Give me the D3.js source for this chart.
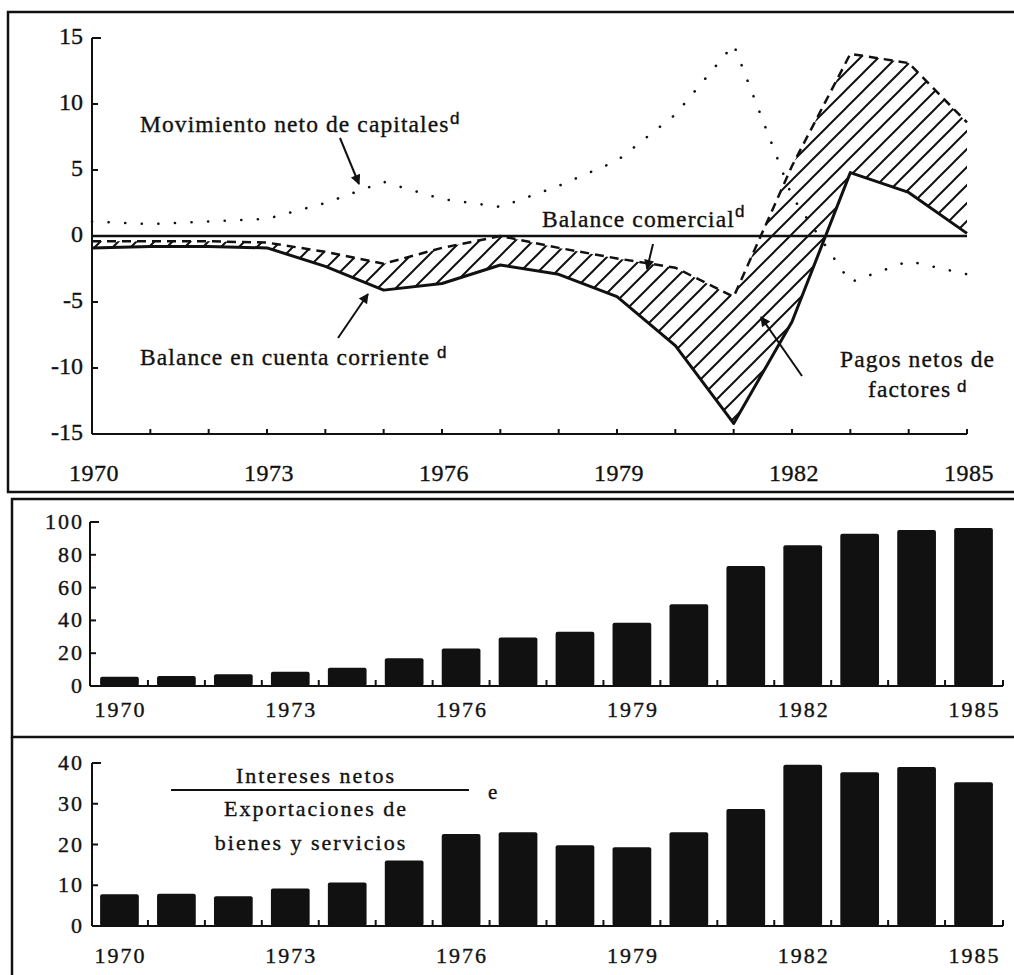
<!DOCTYPE html>
<html><head><meta charset="utf-8">
<script src="https://cdn.jsdelivr.net/npm/d3@7"></script>
<style>
html,body{margin:0;padding:0;background:#fff;}
svg{display:block;}
svg text{stroke:#111;stroke-width:0.35px;}
</style>
</head><body>
<svg id="c" width="1014" height="975"></svg>
<script>
// ---------- data ----------
const years = [1970,1971,1972,1973,1974,1975,1976,1977,1978,1979,1980,1981,1982,1983,1984,1985];
const labelYears = [1970,1973,1976,1979,1982,1985];
const tradeBalance    = [-0.4,-0.4,-0.4,-0.5,-1.2,-2.1,-0.9,0.0,-0.9,-1.7,-2.4,-4.6,5.3,13.8,13.1,8.6];
const currentAccount  = [-0.9,-0.8,-0.8,-0.9,-2.3,-4.1,-3.6,-2.2,-2.9,-4.6,-8.3,-14.2,-6.5,4.8,3.3,0.2];
const capitalMovement = [1.1,0.9,1.1,1.3,2.5,4.1,2.8,2.2,3.8,5.7,9.2,14.5,3.0,-3.5,-1.9,-2.9];
const debtRatio       = [5.7,6.1,7.1,8.7,11.2,16.9,22.8,29.5,33.1,38.6,49.8,73.2,85.8,92.9,95.1,96.3];
const interestRatio   = [7.8,7.9,7.3,9.2,10.7,16.1,22.6,23.0,19.8,19.3,23.0,28.7,39.6,37.7,39.0,35.3];
const topTicks = [-15,-10,-5,0,5,10,15];
const midTicks = [0,20,40,60,80,100];
const botTicks = [0,10,20,30,40];

const SERIF = "'Liberation Serif', 'DejaVu Serif', serif";
const SANS = "'Liberation Sans', 'DejaVu Sans', sans-serif";
const svg = d3.select("#c").attr("font-family", SERIF);
const INK = "#111";

// ---------- defs ----------
const defs = svg.append("defs");
const pat = defs.append("pattern").attr("id","hatch").attr("patternUnits","userSpaceOnUse")
  .attr("width",18).attr("height",18);
pat.append("path").attr("d","M-4.5,4.5 L4.5,-4.5 M0,18 L18,0 M13.5,22.5 L22.5,13.5")
  .attr("stroke",INK).attr("stroke-width",2);
defs.append("marker").attr("id","arr").attr("viewBox","0 0 10 10").attr("refX",9).attr("refY",5)
  .attr("markerWidth",15).attr("markerHeight",10).attr("markerUnits","userSpaceOnUse").attr("orient","auto")
  .append("path").attr("d","M0,0 L10,5 L0,10 z").attr("fill",INK);

function txt(g){ return g.append("text").attr("font-family",SERIF).attr("fill",INK); }

// ---------- frames ----------
const frame = svg.append("g").attr("fill","none").attr("stroke",INK).attr("stroke-width",2.5);
frame.append("path").attr("d","M1014,12 H8 V492 H1014");
frame.append("path").attr("d","M1014,499 H12 V737 H1014");
frame.append("path").attr("d","M12,737 V975");

// ================= TOP PANEL =================
const xTop = d3.scaleLinear().domain([1970,1985]).range([92,967]);
const yTop = d3.scaleLinear().domain([-15,15]).range([434,38]);
const gT = svg.append("g");

const areaData = years.map((y,i)=>({y, t:tradeBalance[i], c:currentAccount[i], k:capitalMovement[i]}));
gT.append("path").datum(areaData)
  .attr("d", d3.area().x(d=>xTop(d.y)).y0(d=>yTop(d.c)).y1(d=>yTop(d.t)))
  .attr("fill","url(#hatch)");

gT.append("line").attr("x1",xTop(1970)).attr("x2",xTop(1985)).attr("y1",yTop(0)).attr("y2",yTop(0))
  .attr("stroke",INK).attr("stroke-width",2.5);

gT.append("line").attr("x1",xTop(1970)).attr("x2",xTop(1970)).attr("y1",yTop(-15)).attr("y2",yTop(15))
  .attr("stroke",INK).attr("stroke-width",2);
gT.append("line").attr("x1",xTop(1970)).attr("x2",xTop(1985)).attr("y1",yTop(-15)).attr("y2",yTop(-15))
  .attr("stroke",INK).attr("stroke-width",2);
gT.selectAll(".yt").data(topTicks).join("line")
  .attr("x1",xTop(1970)).attr("x2",d=>xTop(1970)+(d===15?9:6)).attr("y1",d=>yTop(d)).attr("y2",d=>yTop(d))
  .attr("stroke",INK).attr("stroke-width",2);
gT.selectAll(".yl").data(topTicks).join("text")
  .attr("font-family",SERIF).attr("fill",INK)
  .attr("x",83).attr("y",d=>yTop(d)+6).attr("text-anchor","end")
  .attr("font-size",24).text(d=>d);
gT.selectAll(".xt").data(years).join("line")
  .attr("x1",d=>xTop(d)).attr("x2",d=>xTop(d)).attr("y1",yTop(-15)).attr("y2",yTop(-15)-5)
  .attr("stroke",INK).attr("stroke-width",2);
gT.selectAll(".xl").data(labelYears).join("text")
  .attr("font-family",SERIF).attr("fill",INK)
  .attr("x",d=>xTop(d)+2).attr("y",481).attr("text-anchor","middle")
  .attr("font-size",24).attr("letter-spacing",0.5).text(d=>d);

gT.append("path").datum(areaData)
  .attr("d", d3.line().x(d=>xTop(d.y)).y(d=>yTop(d.c)))
  .attr("fill","none").attr("stroke",INK).attr("stroke-width",3).attr("stroke-linejoin","round");
gT.append("path").datum(areaData)
  .attr("d", d3.line().x(d=>xTop(d.y)).y(d=>yTop(d.t)))
  .attr("fill","none").attr("stroke",INK).attr("stroke-width",2.5).attr("stroke-dasharray","9,6");
gT.append("path").datum(areaData)
  .attr("d", d3.line().x(d=>xTop(d.y)).y(d=>yTop(d.k)))
  .attr("fill","none").attr("stroke",INK).attr("stroke-width",2.6).attr("stroke-linecap","round")
  .attr("stroke-dasharray","0.1,16.5");

function label(g, x, y, s, sup, supDx, supDy){
  txt(g).attr("x",x).attr("y",y).attr("font-size",23.5).attr("letter-spacing",1.1).text(s);
  if(sup){
    g.append("text").attr("x",x+supDx).attr("y",y+supDy).attr("fill",INK)
      .attr("font-family",SANS).attr("font-size",17).text(sup);
  }
}
function arrow(g, x1,y1,x2,y2){
  g.append("line").attr("x1",x1).attr("y1",y1).attr("x2",x2).attr("y2",y2)
    .attr("stroke",INK).attr("stroke-width",2).attr("marker-end","url(#arr)");
}
label(gT, 140, 132, "Movimiento neto de capitales", "d", 310, -8);
arrow(gT, 340,138, 359,184);
label(gT, 140, 365, "Balance en cuenta corriente", "d", 297, -7);
arrow(gT, 338,338, 368,294);
label(gT, 542, 227, "Balance comercial", "d", 193, -10);
arrow(gT, 653,244, 647,269);
label(gT, 840, 367, "Pagos netos de", null);
label(gT, 868, 397, "factores", "d", 89, -5);
arrow(gT, 802,376, 761,317);

// ================= MIDDLE PANEL =================
const xBar = d3.scaleBand().domain(years).range([91,1002]).paddingInner(0.32).paddingOuter(0.16);
const yMid = d3.scaleLinear().domain([0,100]).range([686,522]);
const gM = svg.append("g");
gM.selectAll("rect").data(years).join("rect")
  .attr("x",d=>xBar(d)).attr("width",xBar.bandwidth())
  .attr("y",(d,i)=>yMid(debtRatio[i])).attr("height",(d,i)=>yMid(0)-yMid(debtRatio[i]))
  .attr("rx",2).attr("fill",INK);

function barAxes(g, y, ticks, top, axisX, labY){
  g.append("line").attr("x1",axisX).attr("x2",axisX).attr("y1",y(0)).attr("y2",y(top))
    .attr("stroke",INK).attr("stroke-width",2);
  g.append("line").attr("x1",axisX).attr("x2",1003).attr("y1",y(0)).attr("y2",y(0))
    .attr("stroke",INK).attr("stroke-width",2.2);
  g.selectAll(".yt").data(ticks.filter(d=>d>0)).join("line")
    .attr("x1",axisX).attr("x2",d=>axisX+(d===top?9:6)).attr("y1",d=>y(d)).attr("y2",d=>y(d))
    .attr("stroke",INK).attr("stroke-width",2);
  g.selectAll(".yl").data(ticks).join("text")
    .attr("font-family",SERIF).attr("fill",INK)
    .attr("x",84).attr("y",d=>y(d)+7).attr("text-anchor","end")
    .attr("font-size",22).attr("letter-spacing",2).text(d=>d);
  const step = xBar.step();
  const gaps = years.slice(1).map(d=>xBar(d)-(step-xBar.bandwidth())/2);
  gaps.push(1003);
  g.selectAll(".xt").data(gaps).join("line")
    .attr("x1",d=>d).attr("x2",d=>d).attr("y1",y(0)).attr("y2",y(0)-6)
    .attr("stroke",INK).attr("stroke-width",2);
  g.selectAll(".xl").data(labelYears).join("text")
    .attr("font-family",SERIF).attr("fill",INK)
    .attr("x",d=>xBar(d)+xBar.bandwidth()/2+1).attr("y",labY).attr("text-anchor","middle")
    .attr("font-size",22).attr("letter-spacing",2).text(d=>d);
}
barAxes(gM, yMid, midTicks, 100, 90, 717);

// ================= BOTTOM PANEL =================
const yBot = d3.scaleLinear().domain([0,40]).range([926,763]);
const gB = svg.append("g");
gB.selectAll("rect").data(years).join("rect")
  .attr("x",d=>xBar(d)).attr("width",xBar.bandwidth())
  .attr("y",(d,i)=>yBot(interestRatio[i])).attr("height",(d,i)=>yBot(0)-yBot(interestRatio[i]))
  .attr("rx",2).attr("fill",INK);
barAxes(gB, yBot, botTicks, 40, 92, 963);

txt(gB).attr("x",316).attr("y",783).attr("text-anchor","middle")
  .attr("font-size",22).attr("letter-spacing",2).text("Intereses netos");
gB.append("line").attr("x1",171).attr("x2",469).attr("y1",790).attr("y2",790)
  .attr("stroke",INK).attr("stroke-width",2.2);
txt(gB).attr("x",316).attr("y",816).attr("text-anchor","middle")
  .attr("font-size",22).attr("letter-spacing",2).text("Exportaciones de");
txt(gB).attr("x",311).attr("y",850).attr("text-anchor","middle")
  .attr("font-size",22).attr("letter-spacing",2).text("bienes y servicios");
txt(gB).attr("x",488).attr("y",799).attr("font-size",21).text("e");
</script>
</body></html>
